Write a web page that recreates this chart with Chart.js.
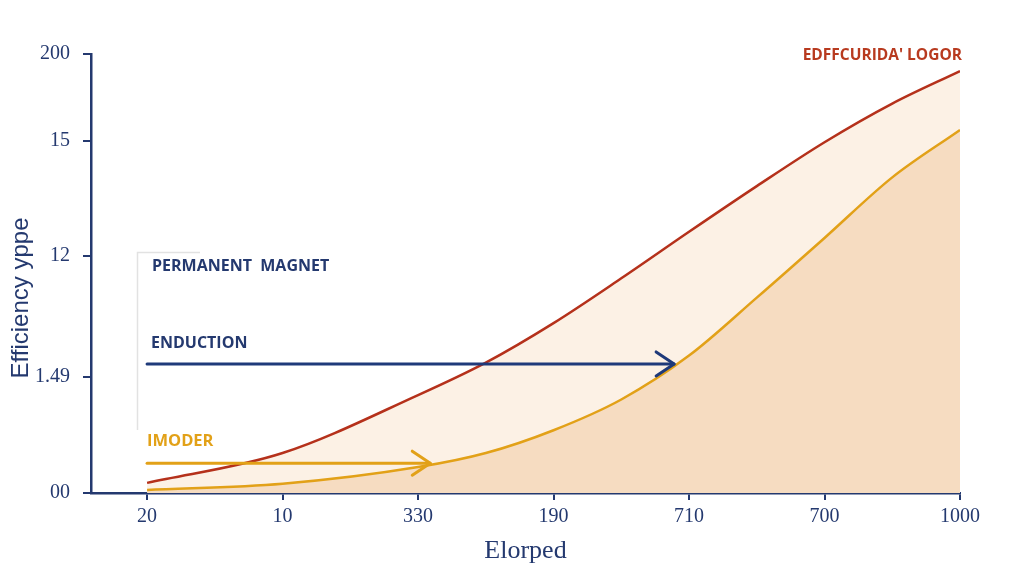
<!DOCTYPE html>
<html>
<head>
<meta charset="utf-8">
<script src="https://cdn.jsdelivr.net/npm/chart.js@4.4.0/dist/chart.umd.min.js"></script>
<style>
html,body{margin:0;padding:0;background:#ffffff;}
#wrap{width:1024px;height:576px;position:relative;}
</style>
</head>
<body>
<div id="wrap"><canvas id="c" width="1024" height="576"></canvas></div>
<script>
// ---- data ----
const xLabels = ["20", "10", "330", "190", "710", "700", "1000"];
const xTickPositions = [0, 1, 2, 3, 4, 5, 6];
const curveX = [0, 1, 2, 2.5, 3, 3.5, 4, 4.5, 5, 5.5, 6];
const efficiencyLogor = [2.3, 9.1, 22.3, 29.7, 38.7, 48.9, 59.5, 69.9, 79.9, 88.7, 96.1];
const imoderCurve = [0.7, 2.1, 5.9, 9.1, 14.3, 21.3, 31.3, 44.5, 58.1, 71.9, 82.7];
const yTickValues = [0, 26.4, 54.0, 80.2, 100];
const yTickLabels = ["00", "1.49", "12", "15", "200"];
const inductionArrow = [[0, 29.4], [3.89, 29.4]];
const imoderArrow = [[0, 6.8], [2.09, 6.8]];
const xTitle = "Elorped";
const yTitle = "Efficiency yppe";
const seriesLabels = {
  top: "EDFFCURIDA' LOGOR",
  magnet: "PERMANENT  MAGNET",
  induction: "ENDUCTION",
  imoder: "IMODER"
};

const NAVY = '#24396f';
const RED = '#b5311b';
const ORANGE = '#e2a118';
const BLUE = '#1f3a7a';

const toPts = (vals) => vals.map((v, i) => ({x: curveX[i], y: v}));
const arrPts = (a) => a.map(p => ({x: p[0], y: p[1]}));

const annotPlugin = {
  id: 'annot',
  afterDatasetsDraw(chart) {
    const ctx = chart.ctx;
    const xs = chart.scales.x, ys = chart.scales.y;
    // arrowheads
    const head = (pt, color) => {
      const px = xs.getPixelForValue(pt[0]), py = ys.getPixelForValue(pt[1]);
      ctx.save();
      ctx.strokeStyle = color; ctx.lineWidth = 3; ctx.lineCap = 'round'; ctx.lineJoin = 'round';
      ctx.beginPath();
      ctx.moveTo(px - 18, py - 12);
      ctx.lineTo(px, py);
      ctx.lineTo(px - 18, py + 12);
      ctx.stroke();
      ctx.restore();
    };
    head(inductionArrow[1], BLUE);
    head(imoderArrow[1], ORANGE);

    // faint legend frame
    ctx.save();
    ctx.strokeStyle = '#e2e2e2'; ctx.lineWidth = 1.5;
    ctx.beginPath();
    ctx.moveTo(200, 252.5); ctx.lineTo(137.5, 252.5); ctx.lineTo(137.5, 430);
    ctx.stroke();
    ctx.restore();

    // labels
    ctx.save();
    ctx.textBaseline = 'middle';
    ctx.textAlign = 'left';
    ctx.fillStyle = NAVY;
    ctx.font = 'bold 16px "Open Sans"';
    ctx.fillText(seriesLabels.magnet, 152, 266);
    ctx.font = 'bold 16px "Open Sans"';
    ctx.fillText(seriesLabels.induction, 151, 343);
    ctx.font = 'bold 16.5px "Open Sans"';
    ctx.fillStyle = ORANGE;
    ctx.fillText(seriesLabels.imoder, 147, 441);
    ctx.font = 'bold 15.5px "Open Sans"';
    ctx.fillStyle = '#b83a1f';
    ctx.textAlign = 'right';
    ctx.fillText(seriesLabels.top, 962, 56);
    // y title
    ctx.translate(21, 298);
    ctx.rotate(-Math.PI / 2);
    ctx.textAlign = 'center';
    ctx.font = '24px "Liberation Sans"';
    ctx.fillStyle = NAVY;
    ctx.fillText(yTitle, 0, 0);
    ctx.restore();
  }
};

new Chart(document.getElementById('c'), {
  type: 'line',
  data: {
    datasets: [
      {
        label: seriesLabels.top,
        data: toPts(efficiencyLogor),
        borderColor: RED, borderWidth: 2.5,
        backgroundColor: 'rgba(250,230,208,0.55)',
        fill: '+1', order: 2,
        pointRadius: 0, cubicInterpolationMode: 'monotone'
      },
      {
        label: seriesLabels.imoder,
        data: toPts(imoderCurve),
        borderColor: ORANGE, borderWidth: 2.5,
        backgroundColor: '#f6dcc1',
        fill: 'origin', order: 3,
        pointRadius: 0, cubicInterpolationMode: 'monotone'
      },
      {
        label: seriesLabels.induction,
        data: arrPts(inductionArrow),
        borderColor: BLUE, borderWidth: 3, fill: false, pointRadius: 0,
        borderCapStyle: 'round', order: 0
      },
      {
        label: seriesLabels.imoder + ' arrow',
        data: arrPts(imoderArrow),
        borderColor: ORANGE, borderWidth: 3, fill: false, pointRadius: 0,
        borderCapStyle: 'round', order: 0
      }
    ]
  },
  options: {
    responsive: false,
    animation: false,
    devicePixelRatio: 1,
    layout: {padding: {top: 54, right: 64, left: 0, bottom: 0}},
    plugins: {legend: {display: false}, tooltip: {enabled: false}, filler: {drawTime: 'beforeDatasetsDraw'}},
    scales: {
      x: {
        type: 'linear', min: -0.414, max: 6,
        afterBuildTicks: (s) => { s.ticks = xTickPositions.map(v => ({value: v})); },
        afterFit: (s) => { s.height = 83; },
        ticks: {
          callback: (v) => xLabels[xTickPositions.indexOf(v)] ?? '',
          font: {family: '"Liberation Serif"', size: 20},
          color: NAVY, padding: 5, maxRotation: 0, autoSkip: false
        },
        grid: {drawOnChartArea: false, drawTicks: true, tickLength: 7, color: NAVY, lineWidth: 2},
        border: {display: true, color: NAVY, width: 2.5},
        title: {
          display: true, text: xTitle, color: NAVY,
          font: {family: '"Liberation Serif"', size: 26, lineHeight: 1.2},
          padding: {top: 0, bottom: 9}
        }
      },
      y: {
        type: 'linear', min: 0, max: 100,
        afterBuildTicks: (s) => { s.ticks = yTickValues.map(v => ({value: v})); },
        afterFit: (s) => { s.width = 91; },
        ticks: {
          callback: (v) => yTickLabels[yTickValues.indexOf(v)] ?? '',
          font: {family: '"Liberation Serif"', size: 20},
          color: NAVY, padding: 13, autoSkip: false
        },
        grid: {drawOnChartArea: false, drawTicks: true, tickLength: 8, color: NAVY, lineWidth: 2},
        border: {display: true, color: NAVY, width: 2.5},
        title: {display: false}
      }
    }
  },
  plugins: [annotPlugin]
});
</script>
</body>
</html>
